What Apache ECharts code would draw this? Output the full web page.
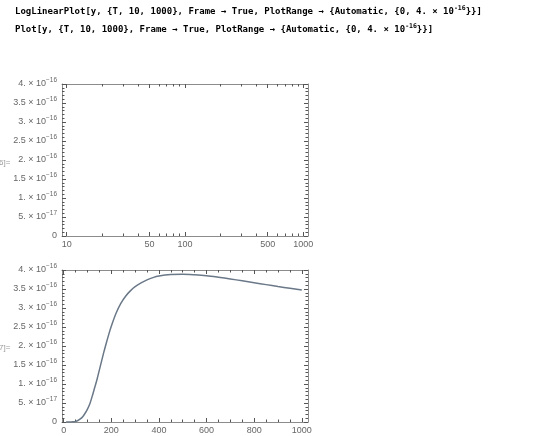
<!DOCTYPE html>
<html>
<head>
<meta charset="utf-8">
<script src="https://cdn.jsdelivr.net/npm/echarts@6/dist/echarts.min.js"></script>
<style>html,body{margin:0;padding:0;background:#fff}#c{width:540px;height:436px}</style>
</head>
<body>
<div id="c"></div>
<script>
// ---- data ----
const codeLine1 = 'LogLinearPlot[y, {T, 10, 1000}, Frame → True, PlotRange → {Automatic, {0, 4. × 10{s|-16}}}]';
const codeLine2 = 'Plot[y, {T, 10, 1000}, Frame → True, PlotRange → {Automatic, {0, 4. × 10{s|-16}}}]';
const outLabels = ['6]=', '7]='];

// temperature samples (T) and y(T) values
const tValues = [10, 20, 30, 40, 50, 60, 70, 80, 90, 100, 110, 120, 130, 140, 150, 160, 170, 180, 190, 200,
  220, 240, 260, 280, 300, 325, 350, 375, 400, 450, 500, 550, 600, 650, 700, 750, 800, 850, 900, 950, 1000];
const yValues = [0, 0, 0.0005e-16, 0.004e-16, 0.015e-16, 0.04e-16, 0.08e-16, 0.14e-16, 0.23e-16, 0.34e-16,
  0.48e-16, 0.68e-16, 0.90e-16, 1.12e-16, 1.37e-16, 1.62e-16, 1.87e-16, 2.10e-16, 2.32e-16, 2.52e-16,
  2.86e-16, 3.12e-16, 3.31e-16, 3.45e-16, 3.56e-16, 3.66e-16, 3.74e-16, 3.80e-16, 3.84e-16, 3.88e-16,
  3.89e-16, 3.875e-16, 3.85e-16, 3.81e-16, 3.765e-16, 3.715e-16, 3.665e-16, 3.615e-16, 3.565e-16, 3.52e-16, 3.475e-16];

// tick values
const logMajorTicks = [10, 50, 100, 500, 1000];
const logMinorTicks = [20, 30, 40, 60, 70, 80, 90, 200, 300, 400, 600, 700, 800, 900];
const linMajorTicks = [0, 200, 400, 600, 800, 1000];
const linMinorTicks = [50, 100, 150, 250, 300, 350, 450, 500, 550, 650, 700, 750, 850, 900, 950];
const yMin = 0, yMax = 4e-16, yStep = 5e-17;

// ---- helpers ----
const FRAME = '#8c8c8c', TICK = '#555', LABEL = '#666';
const LF = 'Liberation Sans';
const lg = v => Math.log10(v);

function fmtY(v) {
  if (Math.abs(v) < 1e-20) return '0';
  const e = v < 9.9e-17 ? -17 : -16;
  let m = Math.round(v / Math.pow(10, e) * 10) / 10;
  const ms = Number.isInteger(m) ? m + '.' : String(m);
  return '{m|' + ms + ' × 10}{s|−' + (-e) + '}';
}

function xAxes(grid, kind) {
  const isLog = kind === 'log';
  const min = isLog ? lg(10) - 0.04 : -7;
  const max = isLog ? lg(1000) + 0.04 : 1026;
  const maj = isLog ? logMajorTicks.map(lg) : linMajorTicks;
  const mnr = isLog ? logMinorTicks.map(lg) : linMinorTicks;
  const base = {gridIndex: grid, type: 'value', min, max, splitLine: {show: false}};
  const mk = (pos, ticks, len, labels, line) => Object.assign({}, base, {
    position: pos,
    axisLine: {show: line, onZero: false, lineStyle: {color: FRAME, width: 1}},
    axisTick: {show: true, inside: true, length: len, customValues: ticks, lineStyle: {color: TICK, width: 1}},
    axisLabel: labels ? {
      show: true, customValues: maj, margin: 4, color: LABEL, fontFamily: LF, fontSize: 9,
      formatter: v => isLog ? String(Math.round(Math.pow(10, v))) : String(Math.round(v))
    } : {show: false}
  });
  return [
    mk('bottom', maj, 4, true, true),
    mk('bottom', mnr, 2.5, false, false),
    mk('top', maj, 4, false, true),
    mk('top', mnr, 2.5, false, false)
  ];
}

function yAxes(grid) {
  const base = {gridIndex: grid, type: 'value', min: yMin, max: yMax, interval: yStep, splitLine: {show: false}};
  const mk = (pos, labels) => Object.assign({}, base, {
    position: pos,
    axisLine: {show: true, onZero: false, lineStyle: {color: FRAME, width: 1}},
    axisTick: {show: true, inside: true, length: 4, lineStyle: {color: TICK, width: 1}},
    minorTick: {show: true, splitNumber: 5, length: 2.5, lineStyle: {color: TICK, width: 1}},
    axisLabel: labels ? {
      show: true, margin: 5, color: LABEL, fontFamily: LF, fontSize: 9,
      formatter: fmtY,
      rich: {
        m: {fontSize: 9, color: LABEL, fontFamily: LF},
        s: {fontSize: 6.5, color: LABEL, fontFamily: LF, padding: [0, 0, 7, 0]}
      }
    } : {show: false}
  });
  return [mk('left', true), mk('right', false)];
}

const chart = echarts.init(document.getElementById('c'), null, {renderer: 'canvas'});
const codeStyle = {
  fontFamily: 'DejaVu Sans Mono', fontSize: 9, fontWeight: 'bold', fill: '#000',
  verticalAlign: 'middle',
  rich: {s: {fontFamily: 'DejaVu Sans Mono', fontSize: 6.5, fontWeight: 'bold', fill: '#000', padding: [0, 0, 7, 0]}}
};
chart.setOption({
  animation: false,
  backgroundColor: '#fff',
  grid: [
    {left: 62, top: 84, width: 246, height: 152},
    {left: 62, top: 270, width: 246, height: 152}
  ],
  xAxis: [...xAxes(0, 'log'), ...xAxes(1, 'lin')],
  yAxis: [...yAxes(0), ...yAxes(1)],
  series: [{
    type: 'line', xAxisIndex: 4, yAxisIndex: 2,
    data: tValues.map((t, i) => [t, yValues[i]]),
    smooth: 0.3, showSymbol: false, clip: true,
    lineStyle: {color: '#6a7888', width: 1.5}
  }],
  graphic: [
    {type: 'text', x: 15, y: 12, style: Object.assign({text: codeLine1}, codeStyle)},
    {type: 'text', x: 15, y: 30, style: Object.assign({text: codeLine2}, codeStyle)},
    {type: 'text', x: -1, y: 163, style: {text: outLabels[0], fontFamily: LF, fontSize: 8, fill: '#999', verticalAlign: 'middle'}},
    {type: 'text', x: -1, y: 348, style: {text: outLabels[1], fontFamily: LF, fontSize: 8, fill: '#999', verticalAlign: 'middle'}}
  ]
});
</script>
</body>
</html>
